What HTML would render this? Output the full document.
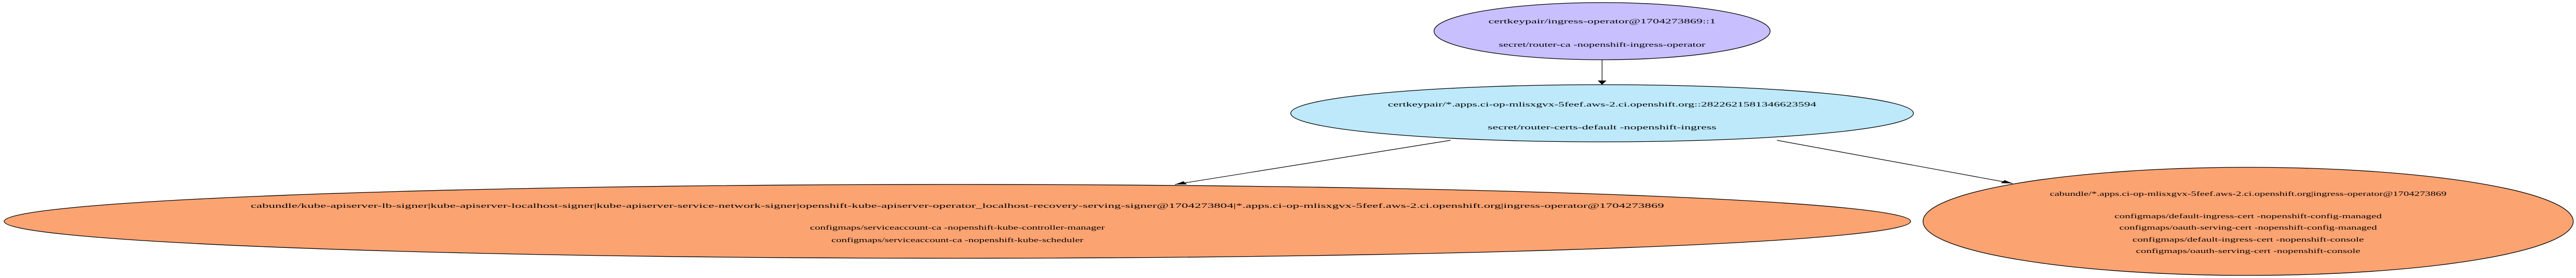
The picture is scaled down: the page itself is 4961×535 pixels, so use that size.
<!DOCTYPE html>
<html><head><meta charset="utf-8"><style>html,body{margin:0;padding:0;background:#fff}svg{display:block}</style></head>
<body>
<svg width="4961" height="535" viewBox="0 0 1870 535" preserveAspectRatio="none" xmlns="http://www.w3.org/2000/svg" font-family="Liberation Serif, serif" font-size="13" text-anchor="middle">
<defs><marker id="a" viewBox="0 0 10 10" refX="10" refY="5" markerWidth="8" markerHeight="8" orient="auto" markerUnits="userSpaceOnUse"><path d="M0,1 L10,5 L0,9 z" fill="#000"/></marker></defs>
<g stroke="#000" stroke-width="1.2" fill="none">
<line x1="1163" y1="115" x2="1163" y2="163" marker-end="url(#a)" vector-effect="non-scaling-stroke"/>
<line x1="1053" y1="270" x2="853" y2="355" marker-end="url(#a)" vector-effect="non-scaling-stroke"/>
<line x1="1290" y1="270" x2="1461" y2="353" marker-end="url(#a)" vector-effect="non-scaling-stroke"/>
</g>
<g stroke="#000" stroke-width="1.3">
<ellipse cx="1163" cy="60" rx="122" ry="55" fill="#c8bfff" vector-effect="non-scaling-stroke"/>
<ellipse cx="1163" cy="218" rx="226" ry="55" fill="#bde9fb" vector-effect="non-scaling-stroke"/>
<ellipse cx="695" cy="426" rx="692" ry="71" fill="#fca372" vector-effect="non-scaling-stroke"/>
<ellipse cx="1632" cy="426" rx="236" ry="104" fill="#fca372" vector-effect="non-scaling-stroke"/>
</g>
<g>
<text x="1163" y="45" textLength="165" lengthAdjust="spacingAndGlyphs">certkeypair/ingress-operator@1704273869::1</text>
<text x="1163" y="90" textLength="150" lengthAdjust="spacingAndGlyphs">secret/router-ca -nopenshift-ingress-operator</text>
<text x="1163" y="205" textLength="311" lengthAdjust="spacingAndGlyphs">certkeypair/*.apps.ci-op-mlisxgvx-5feef.aws-2.ci.openshift.org::2822621581346623594</text>
<text x="1163" y="249" textLength="166" lengthAdjust="spacingAndGlyphs">secret/router-certs-default -nopenshift-ingress</text>
<text x="695" y="400" textLength="1026" lengthAdjust="spacingAndGlyphs">cabundle/kube-apiserver-lb-signer|kube-apiserver-localhost-signer|kube-apiserver-service-network-signer|openshift-kube-apiserver-operator_localhost-recovery-serving-signer@1704273804|*.apps.ci-op-mlisxgvx-5feef.aws-2.ci.openshift.org|ingress-operator@1704273869</text>
<text x="695" y="442" textLength="214" lengthAdjust="spacingAndGlyphs">configmaps/serviceaccount-ca -nopenshift-kube-controller-manager</text>
<text x="695" y="466" textLength="183" lengthAdjust="spacingAndGlyphs">configmaps/serviceaccount-ca -nopenshift-kube-scheduler</text>
<text x="1632" y="377" textLength="288" lengthAdjust="spacingAndGlyphs">cabundle/*.apps.ci-op-mlisxgvx-5feef.aws-2.ci.openshift.org|ingress-operator@1704273869</text>
<text x="1632" y="420" textLength="194" lengthAdjust="spacingAndGlyphs">configmaps/default-ingress-cert -nopenshift-config-managed</text>
<text x="1632" y="442" textLength="187" lengthAdjust="spacingAndGlyphs">configmaps/oauth-serving-cert -nopenshift-config-managed</text>
<text x="1632" y="465" textLength="168" lengthAdjust="spacingAndGlyphs">configmaps/default-ingress-cert -nopenshift-console</text>
<text x="1632" y="487" textLength="163" lengthAdjust="spacingAndGlyphs">configmaps/oauth-serving-cert -nopenshift-console</text>
</g>
</svg>
</body></html>
